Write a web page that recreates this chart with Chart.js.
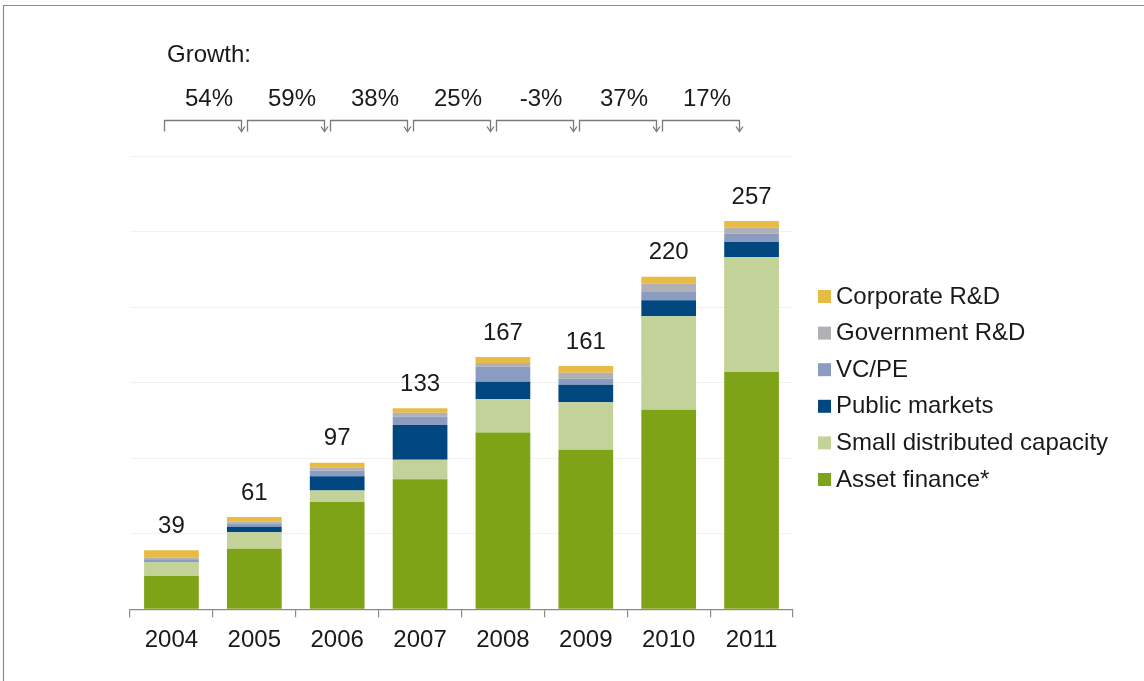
<!DOCTYPE html>
<html>
<head>
<meta charset="utf-8">
<script src="https://cdn.jsdelivr.net/npm/chart.js@4.4.1/dist/chart.umd.min.js"></script>
<style>
  html, body { margin: 0; padding: 0; background: #ffffff; }
  #wrap { position: relative; width: 1144px; height: 681px; }
  canvas { display: block; }
</style>
</head>
<body>
<div id="wrap"><canvas id="chart" width="1144" height="681"></canvas></div>
<script>
// Investment by asset class, $bn
const years = ['2004', '2005', '2006', '2007', '2008', '2009', '2010', '2011'];
const assetFinance      = [22, 40, 71, 86, 117, 105.5, 132, 157];
const smallDistributed  = [9, 11, 7.5, 13, 22, 31.5, 62, 76];
const publicMarkets     = [0.3, 3.5, 9.5, 23, 11.5, 11.5, 10.5, 10];
const vcPe              = [1.7, 2, 3.8, 5.5, 10, 4, 5.5, 5.5];
const governmentRD      = [1, 1.5, 2.2, 2.5, 2.5, 4, 5.5, 4];
const corporateRD       = [5, 3, 3, 3, 4, 4.5, 4.5, 4.5];
const growthLabels      = ['54%', '59%', '38%', '25%', '-3%', '37%', '17%'];
const yTicks            = [0, 50, 100, 150, 200, 250, 300];

const FONT = '"Liberation Sans", Arial, Helvetica, sans-serif';
const INK = '#1a1a1a';
const SIZE = 24;

const stackSeries = [
  { label: 'Asset finance*',              data: assetFinance,     color: '#7fa317' },
  { label: 'Small distributed capacity',  data: smallDistributed, color: '#c2d298' },
  { label: 'Public markets',              data: publicMarkets,    color: '#00467f' },
  { label: 'VC/PE',                       data: vcPe,             color: '#8b9cc0' },
  { label: 'Government R&D',              data: governmentRD,     color: '#b1b1b5' },
  { label: 'Corporate R&D',               data: corporateRD,      color: '#e8bb45' }
];

const datasets = stackSeries.map(s => ({
  label: s.label,
  data: s.data,
  backgroundColor: s.color,
  borderWidth: 0,
  categoryPercentage: 1.0,
  barPercentage: 0.66,
  stack: 'total'
}));

// Frame, totals, growth brackets and legend
const decorations = {
  id: 'decorations',
  beforeDraw(chart) {
    const ctx = chart.ctx;
    ctx.save();
    ctx.fillStyle = '#ffffff';
    ctx.fillRect(0, 0, chart.width, chart.height);
    ctx.strokeStyle = '#8a8a8a';
    ctx.lineWidth = 1.2;
    ctx.beginPath();
    ctx.moveTo(3.5, 681);
    ctx.lineTo(3.5, 5.5);
    ctx.lineTo(1144, 5.5);
    ctx.stroke();
    ctx.restore();
  },
  afterDraw(chart) {
    const ctx = chart.ctx;
    const xs = chart.scales.x;
    const ys = chart.scales.y;
    ctx.save();

    // totals above each stack
    ctx.font = SIZE + 'px ' + FONT;
    ctx.fillStyle = INK;
    ctx.textAlign = 'center';
    ctx.textBaseline = 'middle';
    years.forEach((y, i) => {
      const total = chart.data.datasets.reduce((acc, d) => acc + d.data[i], 0);
      ctx.fillText(String(Math.round(total)), xs.getPixelForValue(i), ys.getPixelForValue(total) - 24);
    });

    // growth header
    ctx.textAlign = 'left';
    ctx.fillText('Growth:', 167, 55);

    ctx.strokeStyle = '#7a7a7a';
    ctx.lineWidth = 1.3;
    growthLabels.forEach((g, i) => {
      const x0 = Math.round(xs.getPixelForValue(i) - 7) + 0.5;
      const x1 = Math.round(xs.getPixelForValue(i + 1) - 13) + 0.5;
      const yl = 120.5;
      ctx.beginPath();
      ctx.moveTo(x0, yl + 11);
      ctx.lineTo(x0, yl);
      ctx.lineTo(x1, yl);
      ctx.lineTo(x1, yl + 10);
      ctx.stroke();
      ctx.beginPath();
      ctx.moveTo(x1 - 3.5, yl + 6);
      ctx.lineTo(x1, yl + 11);
      ctx.lineTo(x1 + 3.5, yl + 6);
      ctx.stroke();
      ctx.save();
      ctx.fillStyle = INK;
      ctx.textAlign = 'center';
      ctx.fillText(g, (x0 + x1) / 2 + 6, 99);
      ctx.restore();
    });

    // legend, top item is the top of the stack
    const items = chart.data.datasets.slice().reverse();
    ctx.textAlign = 'left';
    items.forEach((d, k) => {
      const cy = 296 + k * 36.6;
      ctx.fillStyle = d.backgroundColor;
      ctx.fillRect(818, cy - 6, 13, 13);
      ctx.fillStyle = INK;
      ctx.fillText(d.label, 836, cy + 1);
    });
    ctx.restore();
  }
};

new Chart(document.getElementById('chart'), {
  type: 'bar',
  data: { labels: years, datasets },
  options: {
    responsive: false,
    animation: false,
    devicePixelRatio: 1,
    layout: { padding: { left: 130, right: 351, top: 156, bottom: 17 } },
    plugins: {
      legend: { display: false },
      tooltip: { enabled: false }
    },
    scales: {
      x: {
        stacked: true,
        offset: true,
        grid: {
          display: true,
          offset: true,
          drawOnChartArea: false,
          drawTicks: true,
          tickLength: 8,
          color: '#8a8a8a',
          lineWidth: 1.2
        },
        border: { display: true, color: '#8a8a8a', width: 1.2 },
        ticks: {
          color: INK,
          font: { family: FONT, size: SIZE },
          padding: 9,
          maxRotation: 0
        }
      },
      y: {
        stacked: true,
        min: yTicks[0],
        max: yTicks[yTicks.length - 1],
        afterBuildTicks(scale) { scale.ticks = yTicks.map(v => ({ value: v })); },
        afterFit(scale) { scale.width = 0; },
        grid: { color: '#f1f1f1', lineWidth: 1, drawTicks: false },
        border: { display: false },
        ticks: { display: false }
      }
    }
  },
  plugins: [decorations]
});
</script>
</body>
</html>
